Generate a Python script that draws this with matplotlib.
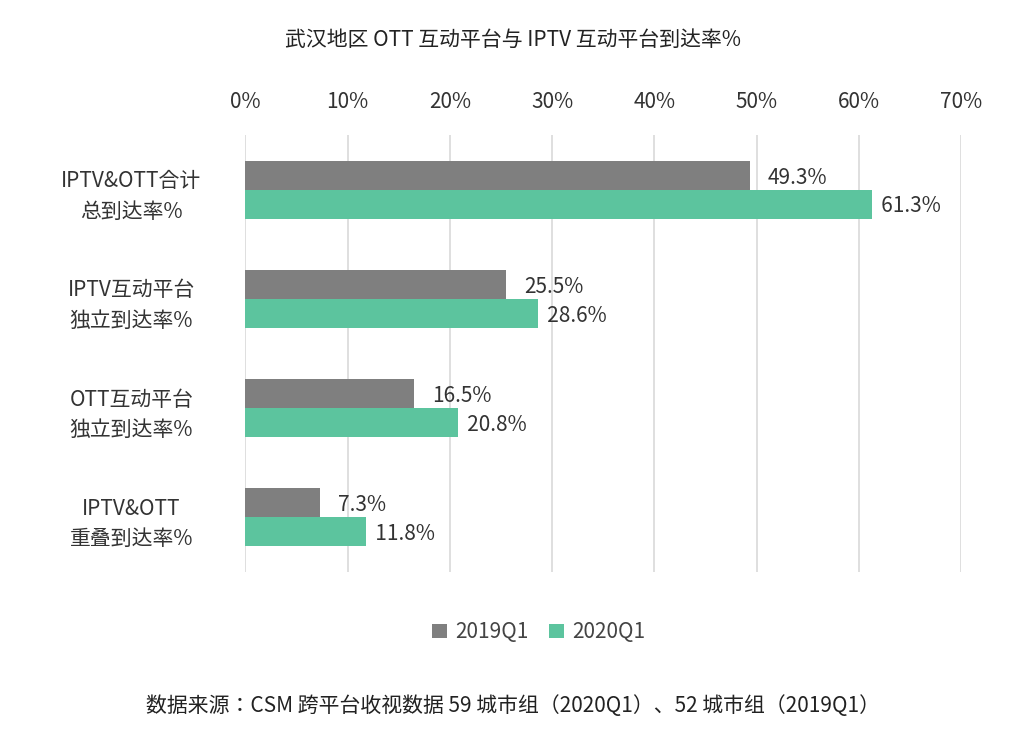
import matplotlib
matplotlib.use("Agg")
import matplotlib.pyplot as plt
from matplotlib import font_manager
import numpy as np

cjk = [f.name for f in font_manager.fontManager.ttflist if 'CJK' in f.name]
fams = ['Noto Sans CJK SC', 'Noto Sans CJK JP', 'Noto Sans CJK TC', 'Noto Sans CJK KR'] + cjk + ['DejaVu Sans']
plt.rcParams['font.family'] = fams

categories = ["IPTV&OTT合计\n总到达率%", "IPTV互动平台\n独立到达率%", "OTT互动平台\n独立到达率%", "IPTV&OTT\n重叠到达率%"]
s2019 = [49.3, 25.5, 16.5, 7.3]
s2020 = [61.3, 28.6, 20.8, 11.8]
ticks = [0, 10, 20, 30, 40, 50, 60, 70]

fig = plt.figure(figsize=(10.26, 7.35), dpi=100)
ax = fig.add_axes([0.239, 0.222, 0.698, 0.594])
y = np.arange(len(categories))
h = 0.265
c1, c2 = '#7f7f7f', '#5cc49e'
ax.barh(y - h/2, s2019, height=h, color=c1, label='2019Q1', zorder=3)
ax.barh(y + h/2, s2020, height=h, color=c2, label='2020Q1', zorder=3)
for i in range(len(y)):
    ax.text(s2019[i] + 1.8, y[i] - h/2 + 0.02, f"{s2019[i]}%", va='center', ha='left', fontsize=15, color='#333333')
    ax.text(s2020[i] + 0.0, y[i] + h/2 + 0.02, f"  {s2020[i]}%", va='center', ha='left', fontsize=15, color='#333333')
ax.set_xlim(0, 70)
ax.set_ylim(3.5, -0.5)
ax.set_xticks(ticks)
ax.set_xticklabels([f"{t}%" for t in ticks], fontsize=15, color='#333333')
ax.xaxis.tick_top()
ax.tick_params(axis='x', length=0, pad=16)
ax.tick_params(axis='y', length=0, pad=20)
ax.set_yticks(y)
ax.set_yticklabels(categories, fontsize=15, color='#333333', linespacing=1.5)
for lab in ax.get_yticklabels():
    lab.set_horizontalalignment('center')
    lab.set_x(-0.12)
ax.grid(axis='x', color='#d9d9d9', linewidth=1.2, zorder=0)
for s in ax.spines.values():
    s.set_visible(False)
fig.text(0.5, 0.945, "武汉地区 OTT 互动平台与 IPTV 互动平台到达率%", ha='center', va='center', fontsize=15, color='#222222')
fig.legend(loc='center', bbox_to_anchor=(0.525, 0.14), ncol=2, frameon=False, fontsize=15,
           handlelength=0.7, handleheight=0.7, columnspacing=1.0, handletextpad=0.4, labelcolor='#444444')
fig.text(0.5, 0.04, "数据来源：CSM 跨平台收视数据 59 城市组（2020Q1）、52 城市组（2019Q1）", ha='center', va='center', fontsize=15, color='#222222')
fig.savefig("out.png", dpi=100)
